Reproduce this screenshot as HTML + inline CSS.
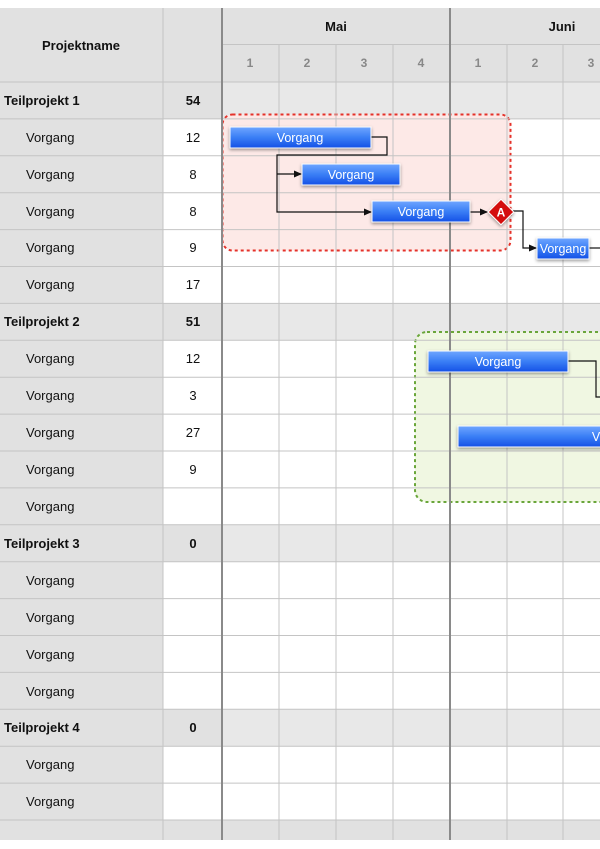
<!DOCTYPE html>
<html><head><meta charset="utf-8"><style>
html,body{margin:0;padding:0;background:#fff;width:600px;height:849px;overflow:hidden}
svg{display:block;font-family:"Liberation Sans",Arial,sans-serif}
</style></head><body>
<svg width="600" height="849" viewBox="0 0 600 849" xmlns="http://www.w3.org/2000/svg">
<defs>
<linearGradient id="bar" x1="0" y1="0" x2="0" y2="1">
<stop offset="0" stop-color="#6fa6ff"/><stop offset="0.5" stop-color="#3a7ef5"/><stop offset="1" stop-color="#1450e6"/>
</linearGradient>
<filter id="sh" x="-10%" y="-30%" width="120%" height="170%"><feDropShadow dx="0" dy="1.5" stdDeviation="1.5" flood-opacity="0.4"/></filter>
<marker id="ar" markerWidth="8" markerHeight="8" refX="7" refY="4" orient="auto" markerUnits="userSpaceOnUse"><path d="M0,0.5 L8,4 L0,7.5z" fill="#111"/></marker>
</defs>
<rect x="0" y="8" width="600" height="74" fill="#e1e1e1"/>
<rect x="0" y="82" width="163" height="758" fill="#e1e1e1"/>
<rect x="163" y="82" width="59" height="758" fill="#fff"/>
<g fill="#e8e8e8">
<rect x="163" y="82" width="437" height="36.9"/>
<rect x="163" y="303.4" width="437" height="36.9"/>
<rect x="163" y="524.8" width="437" height="36.9"/>
<rect x="163" y="709.3" width="437" height="36.9"/>
<rect x="163" y="820" width="437" height="20"/>
</g>
<g fill="#e1e1e1">
<rect x="163" y="82" width="59" height="36.9"/>
<rect x="163" y="303.4" width="59" height="36.9"/>
<rect x="163" y="524.8" width="59" height="36.9"/>
<rect x="163" y="709.3" width="59" height="36.9"/>
<rect x="163" y="820" width="437" height="20"/>
</g>
<rect x="222.5" y="114.5" width="288" height="136" rx="10" fill="#fde9e7" stroke="#e5322a" stroke-width="2" stroke-dasharray="3,3"/>
<rect x="415" y="332" width="200" height="170" rx="12" fill="#f0f7e2" stroke="#6aa63a" stroke-width="2" stroke-dasharray="3,3"/>
<g stroke="#c4c4c4" stroke-width="1">
<line x1="0" y1="82" x2="600" y2="82"/>
<line x1="222" y1="44.5" x2="600" y2="44.5"/>
<line x1="0" y1="118.9" x2="600" y2="118.9"/><line x1="0" y1="155.8" x2="600" y2="155.8"/>
<line x1="0" y1="192.7" x2="600" y2="192.7"/><line x1="0" y1="229.6" x2="600" y2="229.6"/>
<line x1="0" y1="266.5" x2="600" y2="266.5"/><line x1="0" y1="303.4" x2="600" y2="303.4"/>
<line x1="0" y1="340.3" x2="600" y2="340.3"/><line x1="0" y1="377.2" x2="600" y2="377.2"/>
<line x1="0" y1="414.1" x2="600" y2="414.1"/><line x1="0" y1="451" x2="600" y2="451"/>
<line x1="0" y1="487.9" x2="600" y2="487.9"/><line x1="0" y1="524.8" x2="600" y2="524.8"/>
<line x1="0" y1="561.7" x2="600" y2="561.7"/><line x1="0" y1="598.6" x2="600" y2="598.6"/>
<line x1="0" y1="635.5" x2="600" y2="635.5"/><line x1="0" y1="672.4" x2="600" y2="672.4"/>
<line x1="0" y1="709.3" x2="600" y2="709.3"/><line x1="0" y1="746.2" x2="600" y2="746.2"/>
<line x1="0" y1="783.1" x2="600" y2="783.1"/><line x1="0" y1="820" x2="600" y2="820"/>
<line x1="163" y1="8" x2="163" y2="840"/>
<line x1="279" y1="44" x2="279" y2="840"/><line x1="336" y1="44" x2="336" y2="840"/>
<line x1="393" y1="44" x2="393" y2="840"/><line x1="507" y1="44" x2="507" y2="840"/>
<line x1="563" y1="44" x2="563" y2="840"/>
</g>
<g stroke="#8a8a8a" stroke-width="2">
<line x1="222" y1="8" x2="222" y2="840"/><line x1="450" y1="8" x2="450" y2="840"/>
</g>
<g font-weight="bold" fill="#111" font-size="13" text-anchor="middle">
<text x="81" y="50">Projektname</text>
<text x="336" y="31">Mai</text>
<text x="562" y="31">Juni</text>
</g>
<g font-weight="bold" fill="#888" font-size="12" text-anchor="middle">
<text x="250" y="67">1</text><text x="307" y="67">2</text><text x="364" y="67">3</text><text x="421" y="67">4</text>
<text x="478" y="67">1</text><text x="535" y="67">2</text><text x="591" y="67">3</text>
</g>
<g font-size="13" fill="#111">
<text x="4" y="105" font-weight="bold">Teilprojekt 1</text>
<text x="26" y="142">Vorgang</text><text x="26" y="179">Vorgang</text><text x="26" y="216">Vorgang</text>
<text x="26" y="252">Vorgang</text><text x="26" y="289">Vorgang</text>
<text x="4" y="326" font-weight="bold">Teilprojekt 2</text>
<text x="26" y="363">Vorgang</text><text x="26" y="400">Vorgang</text><text x="26" y="437">Vorgang</text>
<text x="26" y="474">Vorgang</text><text x="26" y="511">Vorgang</text>
<text x="4" y="548" font-weight="bold">Teilprojekt 3</text>
<text x="26" y="585">Vorgang</text><text x="26" y="622">Vorgang</text><text x="26" y="659">Vorgang</text>
<text x="26" y="696">Vorgang</text>
<text x="4" y="732" font-weight="bold">Teilprojekt 4</text>
<text x="26" y="769">Vorgang</text><text x="26" y="806">Vorgang</text>
</g>
<g font-size="13" fill="#111" text-anchor="middle">
<text x="193" y="105" font-weight="bold">54</text>
<text x="193" y="142">12</text><text x="193" y="179">8</text><text x="193" y="216">8</text>
<text x="193" y="252">9</text><text x="193" y="289">17</text>
<text x="193" y="326" font-weight="bold">51</text>
<text x="193" y="363">12</text><text x="193" y="400">3</text><text x="193" y="437">27</text>
<text x="193" y="474">9</text>
<text x="193" y="548" font-weight="bold">0</text>
<text x="193" y="732" font-weight="bold">0</text>
</g>
<g stroke="#111" stroke-width="1.2" fill="none">
<polyline points="371,137 387,137 387,155 277,155 277,212 371,212" marker-end="url(#ar)"/>
<polyline points="277,174 301,174" marker-end="url(#ar)"/>
<polyline points="470,212 487,212" marker-end="url(#ar)"/>
<polyline points="513,211 523,211 523,248 536,248" marker-end="url(#ar)"/>
<line x1="589" y1="248" x2="600" y2="248"/>
<polyline points="568,361 596,361 596,397 600,397"/>
</g>
<g filter="url(#sh)" stroke="#fff" stroke-width="1">
<rect x="230" y="127" width="141" height="21" fill="url(#bar)"/>
<rect x="302" y="164" width="98" height="21" fill="url(#bar)"/>
<rect x="372" y="201" width="98" height="21" fill="url(#bar)"/>
<rect x="537" y="238" width="52" height="21" fill="url(#bar)"/>
<rect x="428" y="351" width="140" height="21" fill="url(#bar)"/>
<rect x="458" y="426" width="150" height="21" fill="url(#bar)"/>
</g>
<g fill="#fff" font-size="12.5" text-anchor="middle">
<text x="300" y="142">Vorgang</text>
<text x="351" y="179">Vorgang</text>
<text x="421" y="216">Vorgang</text>
<text x="563" y="253">Vorgang</text>
<text x="498" y="366">Vorgang</text>
<text x="596" y="441">V</text>
</g>
<g filter="url(#sh)"><rect x="492" y="203" width="18" height="18" fill="#d40f0f" stroke="#fff" stroke-width="1" transform="rotate(45 501 212)"/></g>
<text x="501" y="216.5" fill="#fff" font-size="12" font-weight="bold" text-anchor="middle">A</text>
</svg>
</body></html>
